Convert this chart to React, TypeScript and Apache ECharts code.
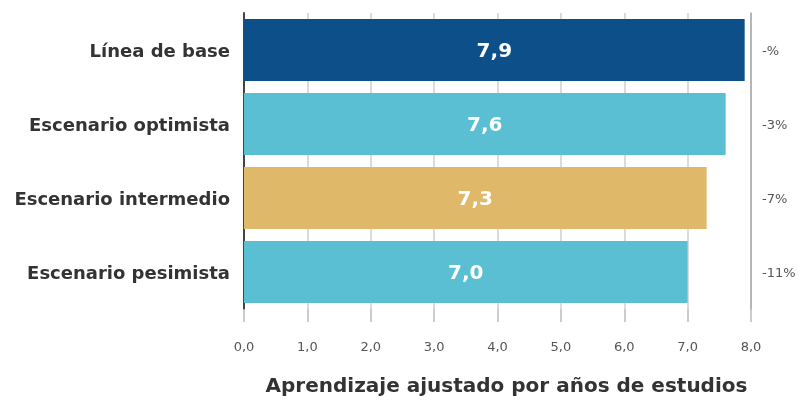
import React, { useEffect, useRef } from "react";
import * as echarts from "echarts";

const categories = ["Línea de base", "Escenario optimista", "Escenario intermedio", "Escenario pesimista"];
const values = [7.9, 7.6, 7.3, 7.0];
const changes = ["-%", "-3%", "-7%", "-11%"];
const colors = ["#0d5089", "#5bbfd4", "#e0b86a", "#5bbfd4"];
const xTicks = [0, 1, 2, 3, 4, 5, 6, 7, 8];

export default function App() {
  const ref = useRef<HTMLDivElement>(null);
  useEffect(() => {
    if (!ref.current) return;
    const chart = echarts.init(ref.current, null, { renderer: "svg" });
    const font = "DejaVu Sans";
    chart.setOption({
      animation: false,
      grid: { left: 244, right: 47, top: 13, height: 296, outerBoundsMode: "none", containLabel: false },
      xAxis: {
        type: "value",
        min: xTicks[0],
        max: xTicks[xTicks.length - 1],
        interval: 1,
        name: "Aprendizaje ajustado por años de estudios",
        nameLocation: "middle",
        nameGap: 66,
        nameTextStyle: {
          fontFamily: font,
          fontWeight: "bold",
          fontSize: 20,
          color: "#333",
          padding: [0, 0, 0, 18],
        },
        axisLine: { show: false },
        axisTick: { show: true, length: 13, lineStyle: { color: "#bbb", width: 1.5 } },
        axisLabel: {
          margin: 31,
          fontFamily: font,
          fontSize: 13,
          color: "#555",
          formatter: (v: number) => v.toFixed(1).replace(".", ","),
        },
        splitLine: { show: true, lineStyle: { color: "#cfcfcf", width: 1.5 } },
      },
      yAxis: [
        {
          type: "category",
          data: categories,
          inverse: true,
          axisLine: { show: true, lineStyle: { color: "#444", width: 2 } },
          axisTick: { show: false },
          axisLabel: {
            margin: 14,
            fontFamily: font,
            fontWeight: "bold",
            fontSize: 18,
            color: "#333",
          },
        },
        {
          type: "category",
          data: changes,
          inverse: true,
          position: "right",
          axisLine: { show: true, lineStyle: { color: "#aaa", width: 1.5 } },
          axisTick: { show: false },
          axisLabel: {
            margin: 11,
            fontFamily: font,
            fontSize: 13,
            color: "#555",
          },
        },
      ],
      series: [
        {
          type: "bar",
          yAxisIndex: 0,
          barCategoryGap: "16%",
          data: values.map((v, i) => ({ value: v, itemStyle: { color: colors[i] } })),
          label: {
            show: true,
            position: "inside",
            fontFamily: font,
            fontWeight: "bold",
            fontSize: 20,
            color: "#fff",
            formatter: (p: any) => p.value.toFixed(1).replace(".", ","),
          },
        },
      ],
    });
    return () => chart.dispose();
  }, []);
  return <div ref={ref} style={{ position: "fixed", left: 0, top: 0, width: 798, height: 402 }} />;
}
